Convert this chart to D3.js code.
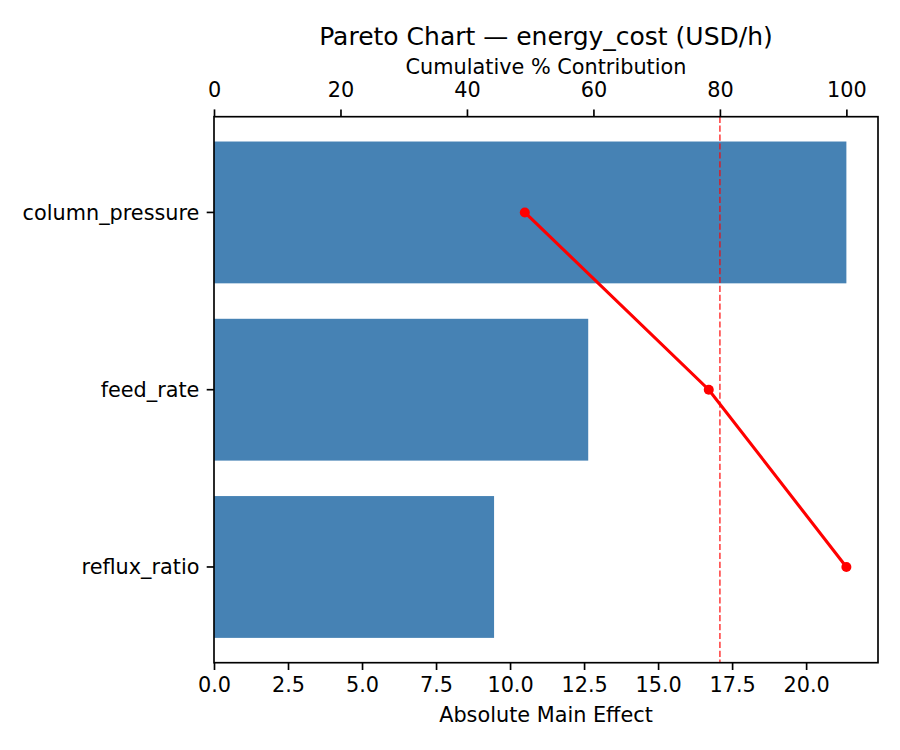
<!DOCTYPE html>
<html>
<head>
<meta charset="utf-8">
<script src="https://cdn.jsdelivr.net/npm/d3@7"></script>
<style>
  body { margin: 0; background: #fff; }
  text { font-family: "DejaVu Sans", sans-serif; fill: #000; }
</style>
</head>
<body>
<div id="chart"></div>
<script>
// data
var factors = ["column_pressure", "feed_rate", "reflux_ratio"];
var effects = [21.36, 12.64, 9.46];
var cumulativePct = [49.15, 78.24, 100];
var bottomTicks = [0, 2.5, 5, 7.5, 10, 12.5, 15, 17.5, 20];
var topTicks = [0, 20, 40, 60, 80, 100];
var threshold = 80;

var svgWidth = 900;
var svgHeight = 750;

var margin = {
  top: 116.7,
  right: 22,
  bottom: 87.3,
  left: 214
};
var chartWidth = svgWidth - margin.left - margin.right;
var chartHeight = svgHeight - margin.top - margin.bottom;

var tickLen = 7.3;
var tickPad = 7.3;
var lw = 1.67;

var svg = d3.select("#chart").append("svg")
  .attr("width", svgWidth)
  .attr("height", svgHeight);

svg.append("rect")
  .attr("width", svgWidth)
  .attr("height", svgHeight)
  .attr("fill", "#fff");

var chartGroup = svg.append("g")
  .attr("transform", `translate(${margin.left}, ${margin.top})`);

// x for the bars, 5% headroom like matplotlib
var x = d3.scaleLinear()
  .domain([0, d3.max(effects) * 1.05])
  .range([0, chartWidth]);

// x for the cumulative line (twin axis on top)
var x2 = d3.scaleLinear()
  .domain([0, 105])
  .range([0, chartWidth]);

var y = d3.scaleBand()
  .domain(factors)
  .range([0, chartHeight])
  .paddingInner(0.2)
  .paddingOuter(0.14);

// bars
chartGroup.selectAll(".bar")
  .data(factors)
  .enter()
  .append("rect")
  .attr("class", "bar")
  .attr("x", x(0))
  .attr("y", d => y(d))
  .attr("width", (d, i) => x(effects[i]) - x(0))
  .attr("height", y.bandwidth())
  .attr("fill", "steelblue");

// 80% reference line
chartGroup.append("line")
  .attr("x1", x2(threshold))
  .attr("x2", x2(threshold))
  .attr("y1", 0)
  .attr("y2", chartHeight)
  .attr("stroke", "red")
  .attr("stroke-opacity", 0.7)
  .attr("stroke-width", lw)
  .attr("stroke-dasharray", "6.2,2.7");

// cumulative line + markers
var line = d3.line()
  .x(d => x2(d.pct))
  .y(d => y(d.name) + y.bandwidth() / 2);

var cumData = factors.map(function(name, i) {
  return { name: name, pct: cumulativePct[i] };
});

chartGroup.append("path")
  .datum(cumData)
  .attr("d", line)
  .attr("fill", "none")
  .attr("stroke", "red")
  .attr("stroke-width", 3.1);

chartGroup.selectAll(".pt")
  .data(cumData)
  .enter()
  .append("circle")
  .attr("class", "pt")
  .attr("cx", d => x2(d.pct))
  .attr("cy", d => y(d.name) + y.bandwidth() / 2)
  .attr("r", 5)
  .attr("fill", "red");

// axes
var bottomAxis = d3.axisBottom(x)
  .tickValues(bottomTicks)
  .tickFormat(d3.format(".1f"))
  .tickSize(tickLen)
  .tickPadding(tickPad);

var topAxis = d3.axisTop(x2)
  .tickValues(topTicks)
  .tickFormat(d3.format("d"))
  .tickSize(tickLen)
  .tickPadding(tickPad);

var leftAxis = d3.axisLeft(y)
  .tickSize(tickLen)
  .tickPadding(tickPad);

var gBottom = chartGroup.append("g")
  .attr("transform", `translate(0, ${chartHeight})`)
  .call(bottomAxis);

var gTop = chartGroup.append("g")
  .call(topAxis);

var gLeft = chartGroup.append("g")
  .call(leftAxis);

[gBottom, gTop, gLeft].forEach(function(g) {
  g.select(".domain").remove();
  g.selectAll(".tick line").attr("stroke", "#000").attr("stroke-width", lw);
  g.selectAll(".tick text")
    .attr("font-family", "DejaVu Sans")
    .attr("font-size", "20.8px")
    .attr("fill", "#000");
});
gTop.selectAll(".tick text").attr("dy", "-0.236em");
gLeft.selectAll(".tick text").attr("dy", "0.36em");

// frame
chartGroup.append("rect")
  .attr("width", chartWidth)
  .attr("height", chartHeight)
  .attr("fill", "none")
  .attr("stroke", "#000")
  .attr("stroke-width", lw);

// labels
chartGroup.append("text")
  .attr("x", chartWidth / 2)
  .attr("y", chartHeight + 59)
  .style("text-anchor", "middle")
  .style("font-size", "20.8px")
  .text("Absolute Main Effect");

chartGroup.append("text")
  .attr("x", chartWidth / 2)
  .attr("y", 74 - margin.top)
  .style("text-anchor", "middle")
  .style("font-size", "20.8px")
  .text("Cumulative % Contribution");

chartGroup.append("text")
  .attr("x", chartWidth / 2)
  .attr("y", 45 - margin.top)
  .style("text-anchor", "middle")
  .style("font-size", "25px")
  .text("Pareto Chart — energy_cost (USD/h)");
</script>
</body>
</html>
